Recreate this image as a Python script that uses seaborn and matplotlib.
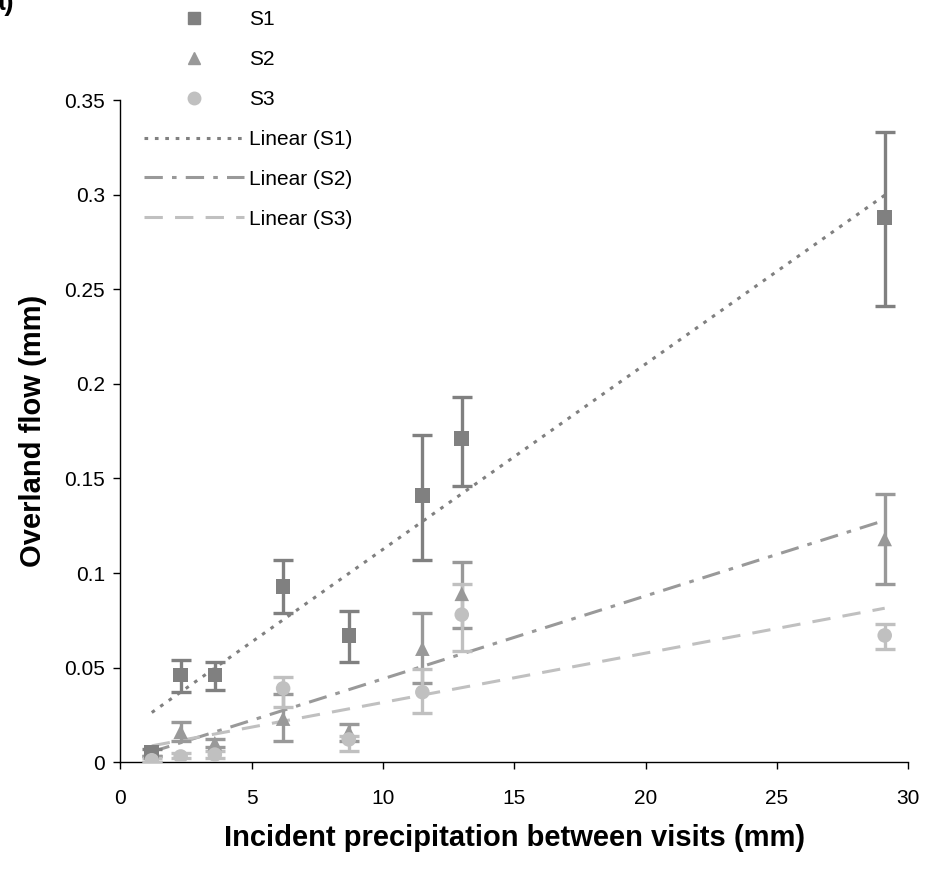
import numpy as np
import pandas as pd
import matplotlib
matplotlib.use('Agg')
import matplotlib.pyplot as plt
from matplotlib.lines import Line2D
from matplotlib.ticker import FuncFormatter
import seaborn as sns

# --- Data ---
precip = [1.2, 2.3, 3.6, 6.2, 8.7, 11.5, 13.0, 29.1]

s1 = [0.005, 0.046, 0.046, 0.093, 0.067, 0.141, 0.171, 0.288]
s1_lo = [0.003, 0.037, 0.038, 0.079, 0.053, 0.107, 0.146, 0.241]
s1_hi = [0.007, 0.054, 0.053, 0.107, 0.080, 0.173, 0.193, 0.333]

s2 = [0.001, 0.016, 0.010, 0.023, 0.016, 0.060, 0.089, 0.118]
s2_lo = [0.000, 0.011, 0.008, 0.011, 0.011, 0.042, 0.071, 0.094]
s2_hi = [0.003, 0.021, 0.012, 0.036, 0.020, 0.079, 0.106, 0.142]

s3 = [0.001, 0.003, 0.004, 0.039, 0.012, 0.037, 0.078, 0.067]
s3_lo = [0.000, 0.002, 0.002, 0.029, 0.006, 0.026, 0.059, 0.060]
s3_hi = [0.002, 0.005, 0.006, 0.045, 0.014, 0.049, 0.094, 0.073]

series = ['S1', 'S2', 'S3']
colors = {'S1': '#808080', 'S2': '#999999', 'S3': '#c0c0c0'}
markers = {'S1': 's', 'S2': '^', 'S3': 'o'}
trend_styles = {'S1': (0, (1.2, 2.2)), 'S2': (0, (6, 3, 1.5, 3)), 'S3': (0, (6, 4))}

values = {'S1': (s1, s1_lo, s1_hi), 'S2': (s2, s2_lo, s2_hi), 'S3': (s3, s3_lo, s3_hi)}

rows = []
for name in series:
    mean, lo, hi = values[name]
    for x, y, l, h in zip(precip, mean, lo, hi):
        rows.append({'precip': x, 'flow': y, 'lo': l, 'hi': h, 'site': name})
df = pd.DataFrame(rows)

# --- Plot ---
sns.set_style('ticks')
plt.rcParams['font.family'] = ['Liberation Sans', 'DejaVu Sans']
plt.rcParams['text.color'] = 'black'
plt.rcParams['axes.labelcolor'] = 'black'
plt.rcParams['xtick.color'] = 'black'
plt.rcParams['ytick.color'] = 'black'
plt.rcParams['axes.edgecolor'] = 'black'

fig = plt.figure(figsize=(9.25, 8.72), dpi=100)
ax = fig.add_axes([0.130, 0.126, 0.852, 0.759])

# trend lines (least squares, like the spreadsheet trendline)
for name in series:
    sub = df[df['site'] == name]
    sns.regplot(data=sub, x='precip', y='flow', ax=ax, scatter=False, ci=None,
                truncate=True,
                line_kws={'color': colors[name], 'lw': 2.2,
                          'linestyle': trend_styles[name], 'zorder': 2})

# error bars
for name in series:
    sub = df[df['site'] == name]
    yerr = [sub['flow'] - sub['lo'], sub['hi'] - sub['flow']]
    ax.errorbar(sub['precip'], sub['flow'], yerr=yerr, fmt='none',
                ecolor=colors[name], elinewidth=2.4, capsize=7.5, capthick=2.4,
                zorder=3)

# markers
sns.scatterplot(data=df, x='precip', y='flow', hue='site', style='site',
                palette=colors, markers=markers, s=110, edgecolor='none',
                ax=ax, legend=False, zorder=4)

ax.set_xlim(0, 30)
ax.set_ylim(0, 0.35)
ax.set_xticks(np.arange(0, 31, 5))
ax.set_yticks(np.arange(0, 0.351, 0.05))
ax.yaxis.set_major_formatter(FuncFormatter(lambda v, p: f'{v:g}'))
ax.tick_params(direction='out', length=5, width=1, labelsize=15)
ax.tick_params(axis='x', pad=14)
ax.tick_params(axis='y', pad=6)
ax.spines['left'].set_linewidth(1)
ax.spines['bottom'].set_linewidth(1)
sns.despine(ax=ax)

ax.set_xlabel('Incident precipitation between visits (mm)', fontsize=21,
              fontweight='bold', labelpad=12)
ax.set_ylabel('Overland flow (mm)', fontsize=21, fontweight='bold', labelpad=12)

# legend
handles = []
for name in series:
    handles.append(Line2D([], [], linestyle='none', marker=markers[name],
                          color=colors[name], markersize=9, label=name))
for name in series:
    handles.append(Line2D([], [], color=colors[name], lw=2.2,
                          linestyle=trend_styles[name], label=f'Linear ({name})'))
fig.legend(handles=handles, loc='upper left', bbox_to_anchor=(0.150, 0.994),
           frameon=False, fontsize=15, handlelength=4.8, handletextpad=0.25,
           labelspacing=1.0, borderaxespad=0, borderpad=0.25)

fig.text(-0.012, 1.012, 'a)', fontsize=20, fontweight='bold', va='top', ha='left')

plt.savefig('out.png', dpi=100)
